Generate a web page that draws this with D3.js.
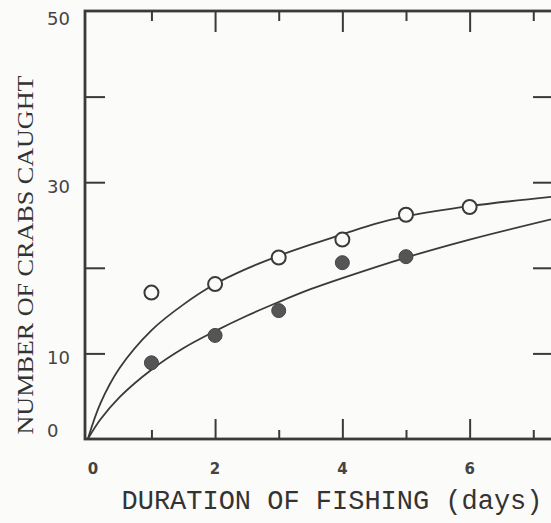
<!DOCTYPE html>
<html>
<head>
<meta charset="utf-8">
<script src="https://cdn.jsdelivr.net/npm/d3@7/dist/d3.min.js"></script>
<style>
  html, body { margin: 0; padding: 0; background: #fbfbfa; }
  svg { display: block; }
</style>
</head>
<body>
<svg id="chart" width="551" height="523"></svg>
<script>
// ---- data ----
const openDays = [1, 2, 3, 4, 5, 6];
const openCounts = [17.1, 18.1, 21.2, 23.3, 26.2, 27.1];
const filledDays = [1, 2, 3, 4, 5];
const filledCounts = [8.9, 12.1, 15.0, 20.6, 21.3];

const upperCurveT = [0, 0.2, 0.5, 1.0, 1.5, 2.0, 2.5, 3.0, 3.5, 4.0, 4.5, 5.0, 6.0, 7.3];
const upperCurveV = [0, 4.2, 8.3, 12.7, 15.7, 18.1, 19.9, 21.4, 22.7, 23.9, 25.1, 26.0, 27.2, 28.3];
const lowerCurveT = [0, 0.2, 0.5, 1.0, 1.5, 2.0, 2.5, 3.0, 3.5, 4.0, 5.0, 6.0, 7.3];
const lowerCurveV = [0, 2.3, 4.9, 8.1, 10.6, 12.6, 14.4, 16.0, 17.5, 18.8, 21.2, 23.3, 25.7];

const xMajorTicks = [2, 4, 6];
const xMinorTicks = [1, 3, 5, 7];
const xTickLabels = [0, 2, 4, 6];
const yTicks = [10, 20, 30, 40];
const yTickLabels = [0, 10, 30, 50];

const xTitle = "DURATION OF FISHING (days)";
const yTitle = "NUMBER OF CRABS CAUGHT";

// ---- layout ----
const svg = d3.select("#chart");
const plotL = 85, plotR = 553, plotT = 11, plotB = 439;
const x = d3.scaleLinear().domain([-0.044, 7.31]).range([plotL, plotR]);
const y = d3.scaleLinear().domain([0, 50]).range([plotB, plotT]);
const ink = "#3a3a3a";

// ticks via d3 axes (inward)
function tickAxis(gen, transform, values, size) {
  const g = svg.append("g").attr("transform", transform)
    .call(gen.tickValues(values).tickSize(size).tickFormat(""));
  g.select(".domain").remove();
  g.selectAll(".tick line").attr("stroke", ink).attr("stroke-width", 2);
}
tickAxis(d3.axisBottom(x), `translate(0,${plotB})`, xMajorTicks, -20);
tickAxis(d3.axisBottom(x), `translate(0,${plotB})`, xMinorTicks, -9);
tickAxis(d3.axisTop(x), `translate(0,${plotT})`, xMajorTicks, -21);
tickAxis(d3.axisTop(x), `translate(0,${plotT})`, xMinorTicks, -10);
tickAxis(d3.axisLeft(y), `translate(${plotL},0)`, yTicks, -20);
tickAxis(d3.axisRight(y), `translate(${plotR},0)`, yTicks, -20);

// frame
svg.append("rect")
  .attr("x", x.range()[0]).attr("y", y.range()[1])
  .attr("width", x.range()[1] - x.range()[0])
  .attr("height", y.range()[0] - y.range()[1])
  .attr("fill", "none").attr("stroke", ink).attr("stroke-width", 2.8);

// curves
const line = d3.line().x(d => x(d[0])).y(d => y(d[1])).curve(d3.curveCatmullRom.alpha(0.5));
svg.append("path").datum(d3.zip(upperCurveT, upperCurveV))
  .attr("d", line).attr("fill", "none").attr("stroke", ink).attr("stroke-width", 1.8);
svg.append("path").datum(d3.zip(lowerCurveT, lowerCurveV))
  .attr("d", line).attr("fill", "none").attr("stroke", ink).attr("stroke-width", 1.8);

// points
svg.append("g").selectAll("circle").data(d3.zip(openDays, openCounts)).join("circle")
  .attr("cx", d => x(d[0])).attr("cy", d => y(d[1])).attr("r", 7)
  .attr("fill", "#fbfbfa").attr("stroke", ink).attr("stroke-width", 2);
svg.append("g").selectAll("circle").data(d3.zip(filledDays, filledCounts)).join("circle")
  .attr("cx", d => x(d[0])).attr("cy", d => y(d[1])).attr("r", 7)
  .attr("fill", "#555").attr("stroke", "#444").attr("stroke-width", 1);

// tick labels
svg.append("g").selectAll("text").data(xTickLabels).join("text")
  .attr("x", d => Math.max(x(d), 93)).attr("y", 474)
  .attr("text-anchor", "middle")
  .attr("font-family", "DejaVu Sans").attr("font-weight", "bold").attr("font-size", 15)
  .attr("fill", "#444").text(d => d);
svg.append("g").selectAll("text").data(yTickLabels).join("text")
  .attr("x", 47).attr("y", d => Math.min(Math.max(y(d) + 11, 25), 437))
  .attr("text-anchor", "start")
  .attr("font-family", "DejaVu Sans").attr("font-size", 18)
  .attr("fill", "#444").text(d => d);

// axis titles
svg.append("text").attr("x", 332).attr("y", 509).attr("text-anchor", "middle")
  .attr("font-family", "Liberation Mono").attr("font-size", 27)
  .attr("textLength", 421).attr("lengthAdjust", "spacingAndGlyphs")
  .attr("fill", "#333").text(xTitle);
svg.append("text").attr("transform", "translate(33,255) rotate(-90)")
  .attr("text-anchor", "middle")
  .attr("font-family", "Liberation Serif").attr("font-size", 24)
  .attr("textLength", 359).attr("lengthAdjust", "spacingAndGlyphs")
  .attr("fill", "#333").text(yTitle);
</script>
</body>
</html>
